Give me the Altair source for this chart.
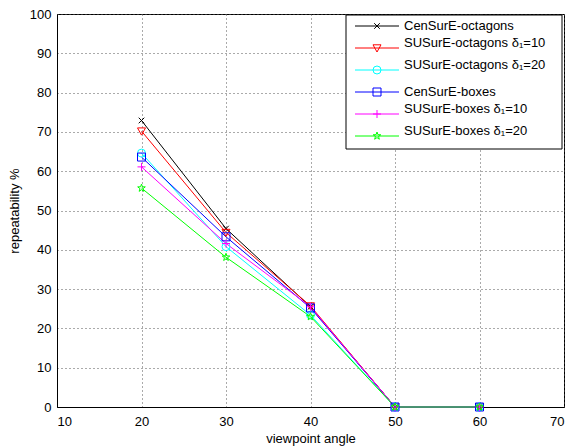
import altair as alt
import pandas as pd
import numpy as np

angles = [20, 30, 40, 50, 60]
series_names = [
    "CenSurE-octagons",
    "SUSurE-octagons δ₁=10",
    "SUSurE-octagons δ₁=20",
    "CenSurE-boxes",
    "SUSurE-boxes δ₁=10",
    "SUSurE-boxes δ₁=20",
]
censure_oct = [72.9, 45.4, 25.5, 0, 0]
susure_oct10 = [70.2, 44.4, 25.7, 0, 0]
susure_oct20 = [64.6, 40.8, 23.4, 0, 0]
censure_box = [63.6, 43.3, 25.2, 0, 0]
susure_box10 = [61.1, 41.6, 25.5, 0, 0]
susure_box20 = [55.7, 38.1, 23.0, 0, 0]
all_values = [censure_oct, susure_oct10, susure_oct20, censure_box, susure_box10, susure_box20]

colors = ["#000000", "#ff0000", "#00ffff", "#0000ff", "#ff00ff", "#00ff00"]

# marker shapes (matlab-like)
ang = np.linspace(-np.pi / 2, 1.5 * np.pi, 11)[:-1]
rad = np.array([1.0 if i % 2 == 0 else 0.4 for i in range(10)])
star = "M" + "L".join(f"{r*np.cos(a):.3f},{r*np.sin(a):.3f}" for r, a in zip(rad, ang)) + "Z"
shapes = [
    "M-0.7,-0.7L0.7,0.7M-0.7,0.7L0.7,-0.7",
    "M-1,-0.8L1,-0.8L0,1Z",
    "circle",
    "square",
    "M0,-1L0,1M-1,0L1,0",
    star,
]

rows = []
for k, (name, vals) in enumerate(zip(series_names, all_values)):
    for a, v in zip(angles, vals):
        rows.append({"series": name, "angle": a, "value": v, "k": k})
df = pd.DataFrame(rows)

color_scale = alt.Scale(domain=series_names, range=colors)
shape_scale = alt.Scale(domain=series_names, range=shapes)

x_ticks = list(range(10, 71, 10))
y_ticks = list(range(0, 101, 10))

def x_enc():
    return alt.X("angle:Q", scale=alt.Scale(domain=[10, 70]),
                 axis=alt.Axis(values=x_ticks, tickCount=7, title="viewpoint angle"))

def y_enc():
    return alt.Y("value:Q", scale=alt.Scale(domain=[0, 100]),
                 axis=alt.Axis(values=y_ticks, tickCount=11, title="repeatability %"))

lines = alt.Chart(df).mark_line(strokeWidth=1).encode(
    x=x_enc(), y=y_enc(),
    color=alt.Color("series:N", scale=color_scale, legend=None),
    detail="series:N",
    order=alt.Order("angle:Q"),
)
points = alt.Chart(df).mark_point(filled=False, size=64, strokeWidth=1, opacity=1).encode(
    x=x_enc(), y=y_enc(),
    color=alt.Color("series:N", scale=color_scale, legend=None),
    shape=alt.Shape("series:N", scale=shape_scale, legend=None),
)
data_layer = alt.layer(lines, points)

# legend box (plot-area pixel coordinates)
PLOT_H = 393
leg = pd.DataFrame({"series": series_names, "i": list(range(6))})
leg["ly"] = 12 + 22 * leg["i"]
leg["ty"] = leg["ly"] - leg["series"].str.contains("δ").astype(int) * 5

box = alt.Chart(pd.DataFrame({"a": [0]})).mark_rect(
    fill="white", stroke="black", strokeWidth=1
).encode(x=alt.value(289), x2=alt.value(505), y=alt.value(1), y2=alt.value(135))

leg_lines = alt.Chart(leg).mark_rule(strokeWidth=1).encode(
    x=alt.value(298), x2=alt.value(342),
    y=alt.Y("ly:Q", scale=None, axis=None),
    color=alt.Color("series:N", scale=color_scale, legend=None),
)
leg_pts = alt.Chart(leg).mark_point(filled=False, size=64, strokeWidth=1, opacity=1).encode(
    x=alt.value(320),
    y=alt.Y("ly:Q", scale=None, axis=None),
    color=alt.Color("series:N", scale=color_scale, legend=None),
    shape=alt.Shape("series:N", scale=shape_scale, legend=None),
)
leg_text = alt.Chart(leg).mark_text(align="left", baseline="middle", fontSize=13,
                                    font="Liberation Sans", color="black").encode(
    x=alt.value(347),
    y=alt.Y("ty:Q", scale=None, axis=None),
    text="series:N",
)

legend_layer = alt.layer(box, leg_lines, leg_pts, leg_text)

chart = alt.layer(data_layer, legend_layer).resolve_scale(y="independent").properties(
    width=507, height=PLOT_H,
    autosize=alt.AutoSizeParams(type="none"),
    padding={"left": 49, "top": 6, "right": 12, "bottom": 40},
).configure_view(stroke="black", strokeWidth=1).configure_axis(
    labelFont="Liberation Sans", titleFont="Liberation Sans",
    labelFontSize=13, titleFontSize=13, titleFontWeight="normal",
    labelColor="black", titleColor="black",
    grid=True, gridDash=[1, 3], gridColor="#555555", gridOpacity=1,
    ticks=False, domainColor="black",
).configure_axisX(labelPadding=8, titlePadding=4).configure_axisY(labelPadding=6, titlePadding=8)

chart.save("out.html", embed_options={"renderer": "svg", "actions": False})
